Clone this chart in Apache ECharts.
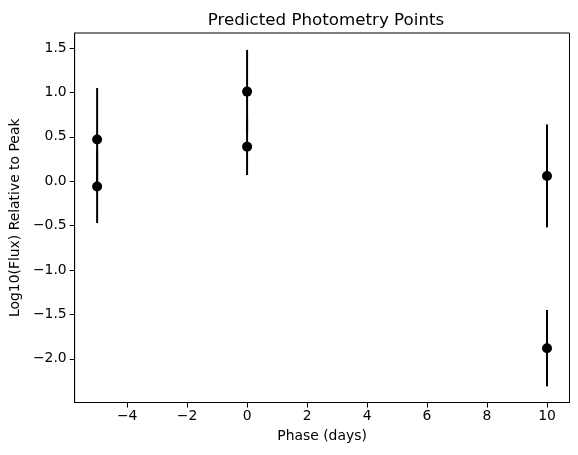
<!DOCTYPE html>
<html>
<head>
<meta charset="utf-8">
<script src="https://cdn.jsdelivr.net/npm/echarts@6/dist/echarts.min.js"></script>
<style>
  html, body { margin: 0; padding: 0; background: #fff; }
  #chart { width: 578px; height: 455px; }
</style>
</head>
<body>
<div id="chart"></div>
<script>
// values
const phases = [-5, -5, 0, 0, 10, 10];
const logFlux = [0.47, -0.06, 1.01, 0.39, 0.06, -1.88];
const fluxErr = [0.58, 0.41, 0.47, 0.32, 0.58, 0.43];
const xTicks = [-4, -2, 0, 2, 4, 6, 8, 10];
const yTicks = [-2.0, -1.5, -1.0, -0.5, 0.0, 0.5, 1.0, 1.5];

const font = 'DejaVu Sans';
const minus = s => String(s).replace('-', '\u2212');

const points = phases.map((p, i) => [p, logFlux[i]]);
const bars = phases.map((p, i) => [p, logFlux[i] - fluxErr[i], logFlux[i] + fluxErr[i]]);

const chart = echarts.init(document.getElementById('chart'));

const option = {
  animation: false,
  backgroundColor: '#fff',
  title: {
    text: 'Predicted Photometry Points',
    left: 321,
    top: 7,
    textAlign: 'center',
    textStyle: { fontFamily: font, fontSize: 16.7, fontWeight: 'normal', color: '#000' }
  },
  grid: {
    left: 73,
    right: 8.5,
    top: 33,
    bottom: 52.5,
    show: true,
    borderColor: '#000',
    borderWidth: 1,
    backgroundColor: 'transparent'
  },
  xAxis: {
    type: 'value',
    min: -5.75,
    max: 10.75,
    name: 'Phase (days)',
    nameLocation: 'middle',
    nameGap: 27,
    nameTextStyle: { fontFamily: font, fontSize: 13.9, color: '#000' },
    splitLine: { show: false },
    axisLine: { show: true, onZero: false, lineStyle: { color: '#000', width: 1 } },
    axisTick: { show: true, length: 5, lineStyle: { color: '#000' }, customValues: xTicks },
    axisLabel: {
      fontFamily: font, fontSize: 13.9, color: '#000', margin: 7,
      customValues: xTicks,
      formatter: v => minus(v)
    }
  },
  yAxis: {
    type: 'value',
    min: -2.492,
    max: 1.67,
    name: 'Log10(Flux) Relative to Peak',
    nameLocation: 'middle',
    nameRotate: 90,
    nameGap: 48,
    nameTextStyle: { fontFamily: font, fontSize: 13.9, color: '#000' },
    splitLine: { show: false },
    axisLine: { show: true, onZero: false, lineStyle: { color: '#000', width: 1 } },
    axisTick: { show: true, length: 5, lineStyle: { color: '#000' }, customValues: yTicks },
    axisLabel: {
      fontFamily: font, fontSize: 13.9, color: '#000', margin: 8,
      customValues: yTicks,
      formatter: v => minus(v.toFixed(1))
    }
  },
  series: [
    {
      type: 'custom',
      data: bars,
      renderItem: (params, api) => {
        const lo = api.coord([api.value(0), api.value(1)]);
        const hi = api.coord([api.value(0), api.value(2)]);
        return {
          type: 'line',
          shape: { x1: lo[0], y1: lo[1], x2: hi[0], y2: hi[1] },
          style: { stroke: '#000', lineWidth: 2 }
        };
      },
      z: 2
    },
    {
      type: 'scatter',
      data: points,
      symbol: 'circle',
      symbolSize: 10,
      itemStyle: { color: '#000', opacity: 1 },
      z: 3
    }
  ]
};

chart.setOption(option);
</script>
</body>
</html>
